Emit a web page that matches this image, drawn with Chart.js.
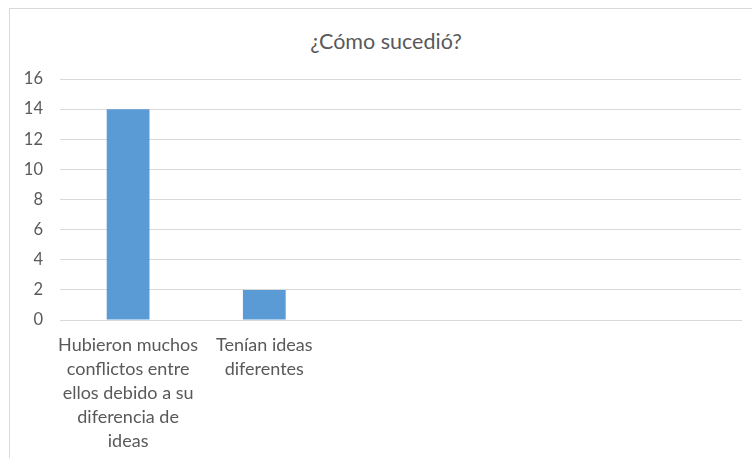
<!DOCTYPE html>
<html>
<head>
<meta charset="utf-8">
<script src="https://cdn.jsdelivr.net/npm/chart.js@4"></script>
<style>
  html, body { margin: 0; padding: 0; background: #fff; }
  body { width: 752px; height: 458px; position: relative; overflow: hidden; }
  .frame { position: absolute; left: 9px; top: 8px; width: 800px; height: 500px; border: 1px solid #d9d9d9; box-sizing: border-box; }
  .title { position: absolute; left: 0; top: 28px; width: 772px; text-align: center; font-family: Lato, sans-serif; font-size: 21.5px; color: #595959; }
  #wrap { position: absolute; left: 0; top: 0; width: 752px; height: 458px; }
</style>
</head>
<body>
<div class="frame"></div>
<div class="title">¿Cómo sucedió?</div>
<div id="wrap"><canvas id="chart"></canvas></div>
<script>
const categories = [
  ['Hubieron muchos', 'conflictos entre', 'ellos debido a su', 'diferencia de', 'ideas'],
  ['Tenían ideas', 'diferentes'],
  '',
  '',
  ''
];
const counts = [14, 2, null, null, null];
const yTicks = { min: 0, max: 16, step: 2 };

const textColor = '#595959';
const gridColor = '#d9d9d9';

new Chart(document.getElementById('chart').getContext('2d'), {
  type: 'bar',
  data: {
    labels: categories,
    datasets: [{
      data: counts,
      backgroundColor: '#5b9bd5',
      borderWidth: 0,
      categoryPercentage: 1,
      barPercentage: 0.314
    }]
  },
  options: {
    responsive: true,
    maintainAspectRatio: false,
    animation: false,
    layout: { padding: { left: 10, right: 11, top: 79, bottom: 0 } },
    plugins: {
      legend: { display: false },
      title: { display: false },
      tooltip: { enabled: false }
    },
    scales: {
      x: {
        grid: { display: false, drawTicks: false },
        border: { display: true, color: gridColor, width: 1 },
        ticks: {
          color: textColor,
          padding: 13,
          maxRotation: 0,
          autoSkip: false,
          font: { family: 'Lato, sans-serif', size: 18, lineHeight: 1.333 }
        },
        afterFit: scale => { scale.height = 138; }
      },
      y: {
        min: yTicks.min,
        max: yTicks.max,
        grid: { color: gridColor, lineWidth: 1, drawTicks: false },
        border: { display: false },
        ticks: {
          stepSize: yTicks.step,
          color: textColor,
          padding: 17,
          font: { family: 'Lato, sans-serif', size: 16.5 }
        },
        afterFit: scale => { scale.width = 50; }
      }
    }
  }
});
</script>
</body>
</html>
